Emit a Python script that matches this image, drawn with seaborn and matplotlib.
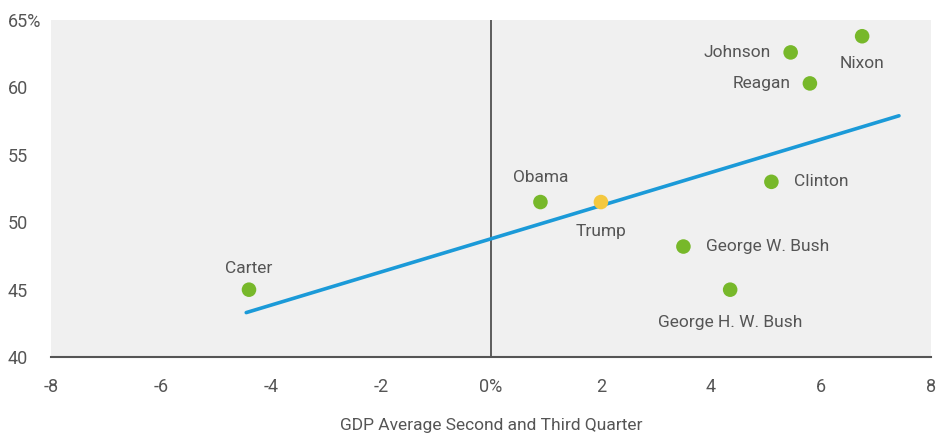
import pandas as pd
import matplotlib.pyplot as plt
import seaborn as sns

# ==========================================
# DATA
# ==========================================
presidents = ["Carter", "Obama", "Trump", "George W. Bush", "George H. W. Bush",
              "Clinton", "Johnson", "Reagan", "Nixon"]
gdp = [-4.4, 0.9, 2.0, 3.5, 4.35, 5.1, 5.45, 5.8, 6.75]
vote = [45.0, 51.5, 51.5, 48.2, 45.0, 53.0, 62.6, 60.3, 63.8]
group = ["past", "past", "current", "past", "past", "past", "past", "past", "past"]

trend_x = [-4.45, 7.42]
trend_y = [43.3, 57.9]

x_ticks = [-8, -6, -4, -2, 0, 2, 4, 6, 8]
x_labels = ["-8", "-6", "-4", "-2", "0%", "2", "4", "6", "8"]
y_ticks = [40, 45, 50, 55, 60, 65]
y_labels = ["40", "45", "50", "55", "60", "65%"]

# label placement: (dx, dy) in points, ha, va
label_pos = {
    "Carter": (0, 10, "center", "bottom"),
    "Obama": (0, 12, "center", "bottom"),
    "Trump": (0, -16, "center", "top"),
    "George W. Bush": (16, 0, "left", "center"),
    "George H. W. Bush": (0, -18, "center", "top"),
    "Clinton": (16, 0, "left", "center"),
    "Johnson": (-14, 0, "right", "center"),
    "Reagan": (-14, 0, "right", "center"),
    "Nixon": (0, -14, "center", "top"),
}

df = pd.DataFrame({"President": presidents, "GDP": gdp, "Vote": vote, "Group": group})

# ==========================================
# PLOT
# ==========================================
sns.set_style("white")
plt.rcParams["font.family"] = ["Roboto", "DejaVu Sans"]

text_color = "#555555"

fig = plt.figure(figsize=(9.38, 4.36), dpi=100)
ax = fig.add_axes([0.0544, 0.181, 0.938, 0.773])
ax.set_facecolor("#f0f0f0")

ax.axvline(0, color="#444444", linewidth=1.2, zorder=1)

sns.lineplot(x=trend_x, y=trend_y, ax=ax, color="#1b9ad8", linewidth=2.6, zorder=2)

sns.scatterplot(
    data=df,
    x="GDP",
    y="Vote",
    hue="Group",
    palette={"past": "#77b82a", "current": "#f4c83f"},
    s=110,
    edgecolor="none",
    legend=False,
    ax=ax,
    zorder=3
)

for name, x, y in zip(presidents, gdp, vote):
    dx, dy, ha, va = label_pos[name]
    ax.annotate(
        name,
        (x, y),
        xytext=(dx, dy),
        textcoords="offset points",
        ha=ha,
        va=va,
        fontsize=12.5,
        color=text_color
    )

ax.set_xlim(-8, 8)
ax.set_ylim(40, 65)
ax.set_xticks(x_ticks)
ax.set_xticklabels(x_labels)
ax.set_yticks(y_ticks)
ax.set_yticklabels(y_labels, ha="left")
ax.tick_params(axis="both", length=0, labelsize=13, labelcolor=text_color)
ax.tick_params(axis="x", pad=15)
ax.tick_params(axis="y", pad=31)

for side in ["top", "right", "left"]:
    ax.spines[side].set_visible(False)
ax.spines["bottom"].set_color("#555555")
ax.spines["bottom"].set_linewidth(1.5)

ax.set_xlabel("GDP Average Second and Third Quarter", fontsize=12.5,
              color=text_color, labelpad=16)
ax.set_ylabel("")

plt.savefig("out.png", dpi=100)
